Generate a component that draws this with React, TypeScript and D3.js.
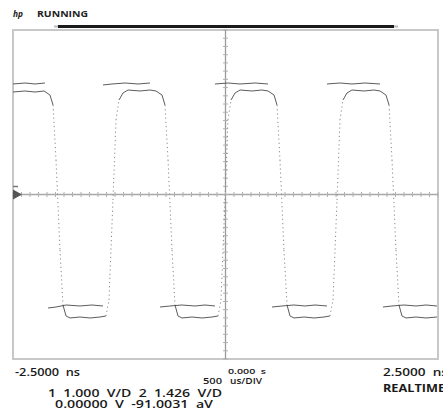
import React from "react";
import * as d3 from "d3";

// Channel 2 (rounded trace): time in ns, value in divisions
const ch2Time = [
  -2.5, -2.359, -2.241, -2.135,
  -2.065, -2.029, -1.994, -1.947, -1.912, -1.876, -1.829,
  -1.712, -1.594, -1.476,
  -1.406, -1.371, -1.324, -1.288, -1.253, -1.206, -1.147,
  -1.006, -0.888, -0.818,
  -0.747, -0.712, -0.676, -0.629, -0.594, -0.559, -0.512,
  -0.394, -0.276, -0.159,
  -0.088, -0.053, -0.006, 0.029, 0.065, 0.112, 0.171,
  0.312, 0.429, 0.5,
  0.571, 0.606, 0.641, 0.688, 0.724, 0.759, 0.806,
  0.924, 1.041, 1.159,
  1.229, 1.265, 1.312, 1.347, 1.382, 1.429, 1.488,
  1.629, 1.747, 1.818,
  1.888, 1.924, 1.959, 2.006, 2.041, 2.076, 2.124,
  2.241, 2.359, 2.488,
];
const ch2Value = [
  2.492, 2.517, 2.492, 2.517,
  2.419, 2.176, 0.839, -1.35, -2.687, -2.954, -3.003,
  -2.979, -3.003, -2.979,
  -2.954, -2.565, -0.134, 1.812, 2.298, 2.468, 2.541,
  2.517, 2.541, 2.517,
  2.419, 2.176, 0.839, -1.35, -2.687, -2.954, -3.003,
  -2.979, -3.003, -2.979,
  -2.954, -2.565, -0.134, 1.812, 2.298, 2.468, 2.541,
  2.517, 2.541, 2.517,
  2.419, 2.176, 0.839, -1.35, -2.687, -2.954, -3.003,
  -2.979, -3.003, -2.979,
  -2.954, -2.565, -0.134, 1.812, 2.298, 2.468, 2.541,
  2.517, 2.541, 2.517,
  2.419, 2.176, 0.839, -1.35, -2.687, -2.954, -3.003,
  -2.979, -3.003, -2.979,
];

// Channel 1 (flat trace) plateau segments
const ch1Segments: [number, number][][] = [
  [[-2.5, 2.687], [-2.359, 2.711], [-2.241, 2.687], [-2.124, 2.711]],
  [[-2.088, -2.76], [-1.994, -2.736], [-1.876, -2.687], [-1.712, -2.711], [-1.571, -2.687], [-1.441, -2.711]],
  [[-1.441, 2.663], [-1.335, 2.687], [-1.182, 2.711], [-1.029, 2.687], [-0.888, 2.711]],
  [[-0.771, -2.736], [-0.653, -2.711], [-0.512, -2.687], [-0.359, -2.711], [-0.241, -2.687], [-0.124, -2.711]],
  [[-0.124, 2.687], [0.029, 2.711], [0.171, 2.687], [0.347, 2.711], [0.5, 2.687]],
  [[0.547, -2.736], [0.665, -2.711], [0.806, -2.687], [0.935, -2.711], [1.053, -2.687], [1.194, -2.711]],
  [[1.194, 2.687], [1.347, 2.711], [1.488, 2.687], [1.641, 2.711], [1.818, 2.687]],
  [[1.853, -2.736], [1.959, -2.711], [2.1, -2.687], [2.241, -2.711], [2.359, -2.687], [2.488, -2.711]],
];

const headerLabels = ["hp", "RUNNING"];
const timeLabels = ["-2.5000  ns", "0.000  s", "500", "us/DIV", "2.5000  ns", "REALTIME"];
const channelLabels = ["1  1.000  V/D  2  1.426  V/D", "0.00000  V  -91.0031  aV"];

export default function App() {
  const W = 443, H = 410;
  const x = d3.scaleLinear().domain([-2.5, 2.5]).range([13, 438]);
  const y = d3.scaleLinear().domain([-4, 4]).range([359, 30]);
  const line = d3.line<[number, number]>().x(d => x(d[0])).y(d => y(d[1]));

  const ch2Pts: [number, number][] = ch2Time.map((t, i) => [t, ch2Value[i]]);
  const segs = ch2Pts.slice(1).map((p, i) => ({ a: ch2Pts[i], b: p, steep: Math.abs(p[1] - ch2Pts[i][1]) > 0.35 }));

  const hTicks = d3.range(-2.5, 2.5001, 0.1);
  const vTicks = d3.range(-4, 4.001, 0.2);
  const font = "'Open Sans', 'Liberation Sans', sans-serif";
  const T = (props: any) => <text xmlSpace="preserve" lengthAdjust="spacingAndGlyphs" {...props} />;

  return (
    <svg width={W} height={H} style={{ position: "absolute", left: 0, top: 0, background: "#fff" }} fontFamily={font}>
      <rect x={0} y={0} width={W} height={H} fill="#fff" />
      {/* header */}
      <T x={13} y={17} fontSize={8.5} fontStyle="italic" fontWeight={700} fill="#222" textLength={10}>{headerLabels[0]}</T>
      <T x={37} y={17} fontSize={8.5} fontWeight={700} fill="#222" textLength={51}>{headerLabels[1]}</T>
      {/* top record bar */}
      <line x1={54} x2={398} y1={26.5} y2={26.5} stroke="#bbb" strokeWidth={2} />
      <line x1={58} x2={394} y1={26.5} y2={26.5} stroke="#1a1a1a" strokeWidth={3} />
      {/* frame */}
      <rect x={x(-2.5)} y={y(4)} width={x(2.5) - x(-2.5)} height={y(-4) - y(4)} fill="none" stroke="#c8c8c8" strokeWidth={2} />
      {/* center axes */}
      <line x1={x(0)} x2={x(0)} y1={y(4)} y2={y(-4)} stroke="#9a9a9a" strokeWidth={1.3} />
      <line x1={x(-2.5)} x2={x(2.5)} y1={y(0)} y2={y(0)} stroke="#a8a8a8" strokeWidth={1.6} />
      {hTicks.map((t, i) => (
        <line key={"h" + i} x1={x(t)} x2={x(t)} y1={y(0) - 2.5} y2={y(0) + 2.5} stroke="#b0b0b0" strokeWidth={1} />
      ))}
      {vTicks.map((v, i) => (
        <line key={"v" + i} x1={x(0) - 2.5} x2={x(0) + 2.5} y1={y(v)} y2={y(v)} stroke="#b0b0b0" strokeWidth={1} />
      ))}
      {/* ground marker */}
      <path d={`M${x(-2.5)},${y(0) - 5} L${x(-2.5) + 9},${y(0)} L${x(-2.5)},${y(0) + 5} Z`} fill="#555" />
      <line x1={x(-2.5)} x2={x(-2.5) + 5} y1={y(0) - 8} y2={y(0) - 8} stroke="#777" strokeWidth={1.5} />
      {/* channel 1 */}
      {ch1Segments.map((s, i) => (
        <path key={"c1" + i} d={line(s) || ""} fill="none" stroke="#4a4a4a" strokeWidth={0.9} />
      ))}
      {/* channel 2 */}
      {segs.map((s, i) => (
        <path key={"c2" + i} d={line([s.a, s.b]) || ""} fill="none"
          stroke={s.steep ? "#8a8a8a" : "#4a4a4a"} strokeWidth={s.steep ? 1 : 0.9}
          strokeDasharray={s.steep ? "1.2 3" : undefined} />
      ))}
      {/* bottom texts */}
      <g fill="#1a1a1a">
        <T x={15} y={375.5} fontSize={10.5} fontWeight={600} textLength={65}>{timeLabels[0]}</T>
        <T x={228} y={373.5} fontSize={7.5} fontWeight={600} textLength={38}>{timeLabels[1]}</T>
        <T x={203} y={384} fontSize={8} fontWeight={600} textLength={19}>{timeLabels[2]}</T>
        <T x={230} y={383.5} fontSize={8} fontWeight={600} textLength={32}>{timeLabels[3]}</T>
        <T x={383} y={375.5} fontSize={10.5} fontWeight={600} textLength={65}>{timeLabels[4]}</T>
        <T x={383} y={391.5} fontSize={10.5} fontWeight={700} textLength={62}>{timeLabels[5]}</T>
        <T x={48} y={396.5} fontSize={10} fontWeight={600} textLength={174}>{channelLabels[0]}</T>
        <T x={55} y={408} fontSize={10} fontWeight={600} textLength={158}>{channelLabels[1]}</T>
      </g>
    </svg>
  );
}
